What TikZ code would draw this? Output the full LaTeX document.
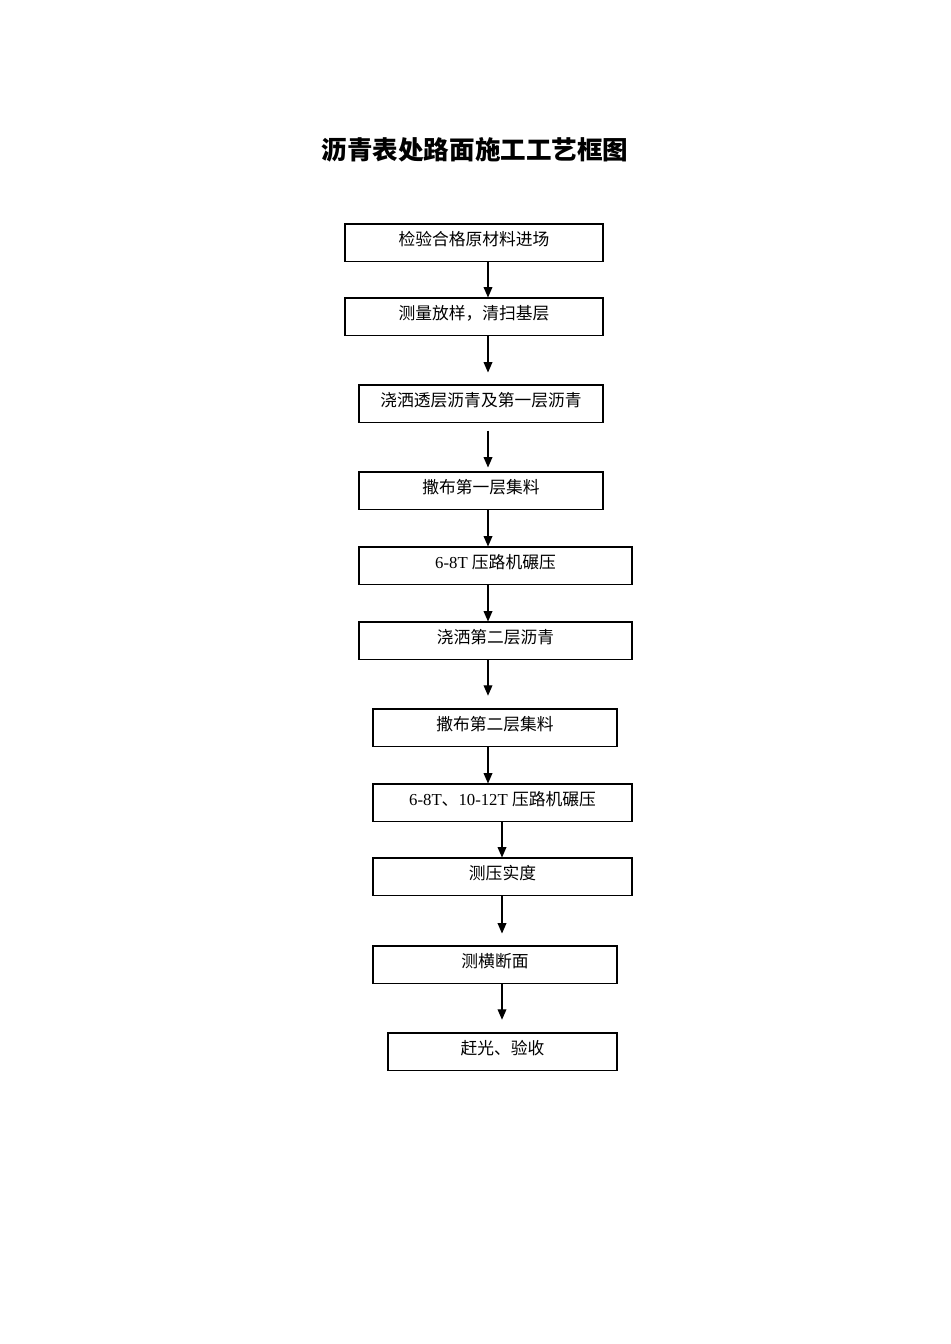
\documentclass[tikz,border=0pt]{standalone}
\usepackage{fontspec}
\setmainfont{Liberation Serif}
\newfontfamily\cjk{Noto Sans CJK SC}
\usetikzlibrary{arrows.meta}
\newcommand\pxu{0.6264pt}
\tikzset{
  stepbox/.style={draw, line width=0.65pt, inner sep=0pt, text height=13.6pt, text depth=9.6pt,
    minimum height=23.2pt, font=\fontsize{10.5pt}{12pt}\selectfont},
  flow/.style={-{Triangle[length=6.5pt,width=5.5pt]}, line width=0.65pt},
}
\begin{document}
\begin{tikzpicture}[x=0.6264pt, y=-0.6264pt]
        \useasboundingbox (0,0) rectangle (950,1344);

            \node (title) at (475,150) {\fontsize{16pt}{19pt}\selectfont\cjk\bfseries 沥青表处路面施工工艺框图};

            \node[stepbox, minimum width=258*\pxu] (material) at (474,242.5)   {\cjk 检验合格原材料进场};
            \node[stepbox, minimum width=258*\pxu] (survey)   at (474,316.5)   {\cjk 测量放样，清扫基层};
            \node[stepbox, minimum width=244*\pxu] (prime)    at (481,403.5)   {\cjk 浇洒透层沥青及第一层沥青};
            \node[stepbox, minimum width=244*\pxu] (chips)    at (481,490.5)   {\cjk 撒布第一层集料};
            \node[stepbox, minimum width=273*\pxu] (roll)     at (495.5,565.5) {6-8T {\cjk 压路机碾压}};
            \node[stepbox, minimum width=273*\pxu] (spray)    at (495.5,640.5) {\cjk 浇洒第二层沥青};
            \node[stepbox, minimum width=244*\pxu] (chipstwo) at (495,727.5)   {\cjk 撒布第二层集料};
            \node[stepbox, minimum width=259*\pxu] (rolltwo)  at (502.5,802.5) {6-8T{\cjk 、}10-12T {\cjk 压路机碾压}};
            \node[stepbox, minimum width=259*\pxu] (density)  at (502.5,876.5) {\cjk 测压实度};
            \node[stepbox, minimum width=244*\pxu] (section)  at (495,964.5)   {\cjk 测横断面};
            \node[stepbox, minimum width=229*\pxu] (finish)   at (502.5,1051.5){\cjk 赶光、验收};

            \coordinate (spine)  at (488,0);
            \coordinate (spineb) at (502,0);

            \draw[flow] (material.south -| spine) -- (survey.north -| spine);
            \draw[flow, shorten >=7.5pt] (survey.south -| spine) -- (prime.north -| spine);
            \draw[flow, shorten <=5pt, shorten >=2.5pt] (prime.south -| spine) -- (chips.north -| spine);
            \draw[flow] (chips.south -| spine) -- (roll.north -| spine);
            \draw[flow] (roll.south -| spine) -- (spray.north -| spine);
            \draw[flow, shorten >=8pt] (spray.south -| spine) -- (chipstwo.north -| spine);
            \draw[flow] (chipstwo.south -| spine) -- (rolltwo.north -| spine);
            \draw[flow] (rolltwo.south -| spineb) -- (density.north -| spineb);
            \draw[flow, shorten >=7.5pt] (density.south -| spineb) -- (section.north -| spineb);
            \draw[flow, shorten >=8pt] (section.south -| spineb) -- (finish.north -| spineb);

        \end{tikzpicture}
\end{document}
